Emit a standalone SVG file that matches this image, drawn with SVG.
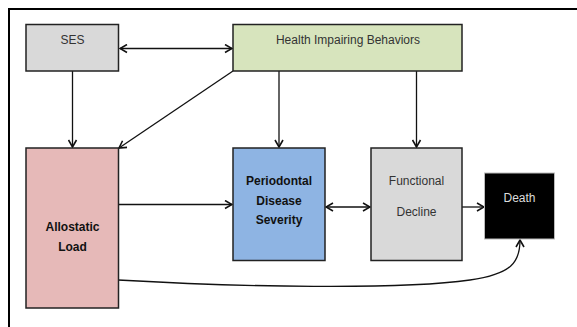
<svg xmlns="http://www.w3.org/2000/svg" width="577" height="327" viewBox="0 0 577 327">
<defs>
<marker id="arr" viewBox="0 0 10 10" refX="9" refY="5" markerWidth="10" markerHeight="10" markerUnits="userSpaceOnUse" orient="auto-start-reverse">
<path d="M2,1 L9,5 L2,9" fill="none" stroke="#111" stroke-width="1.6"/>
</marker>
<style>
.box{stroke:#222;stroke-width:1.5}
.t{font-family:"Liberation Sans",Arial,sans-serif;font-size:12px;text-anchor:middle;fill:#333}
.b{font-weight:bold;fill:#111}
.c{fill:none;stroke:#111;stroke-width:1.3}
</style>
</defs>
<rect width="577" height="327" fill="#fff"/>
<path d="M9,327 V9 H577" fill="none" stroke="#000" stroke-width="2"/>
<g id="connectors">
<path class="c" d="M120,48.5 H232" marker-start="url(#arr)" marker-end="url(#arr)"/>
<path class="c" d="M72.5,71 V147" marker-end="url(#arr)"/>
<path class="c" d="M233,71 L119,148" marker-end="url(#arr)"/>
<path class="c" d="M279,71 V147" marker-end="url(#arr)"/>
<path class="c" d="M416.5,71 V147" marker-end="url(#arr)"/>
<path class="c" d="M118,204.5 H232" marker-end="url(#arr)"/>
<path class="c" d="M326,207 H370" marker-start="url(#arr)" marker-end="url(#arr)"/>
<path class="c" d="M462,207 H484" marker-end="url(#arr)"/>
<path class="c" d="M118,280 C240,287 400,290 470,280 C512,274 520,262 520,240" marker-end="url(#arr)"/>
</g>
<g id="ses">
<rect class="box" x="26" y="24.5" width="92.5" height="46.5" fill="#d9d9d9"/>
<text class="t" x="72.5" y="44">SES</text>
</g>
<g id="hib">
<rect class="box" x="233" y="24.5" width="229" height="46.5" fill="#d7e4bd"/>
<text class="t" x="348" y="44">Health Impairing Behaviors</text>
</g>
<g id="allostatic">
<rect class="box" x="26" y="148" width="92.5" height="160" fill="#e6b9b8"/>
<text class="t b" x="72.5" y="231">Allostatic</text>
<text class="t b" x="72.5" y="251">Load</text>
</g>
<g id="periodontal">
<rect class="box" x="233" y="148" width="92" height="112.5" fill="#8eb4e3"/>
<text class="t b" x="279" y="184.5">Periodontal</text>
<text class="t b" x="279" y="205">Disease</text>
<text class="t b" x="279" y="224">Severity</text>
</g>
<g id="functional">
<rect class="box" x="371" y="148" width="91" height="112.5" fill="#d9d9d9"/>
<text class="t" x="416.5" y="185">Functional</text>
<text class="t" x="416.5" y="216">Decline</text>
</g>
<g id="death">
<rect x="484.5" y="173" width="70" height="66" fill="#000" stroke="#bbb" stroke-width="1"/>
<text class="t" x="519.5" y="202" fill="#ddd" style="fill:#ddd">Death</text>
</g>
</svg>
